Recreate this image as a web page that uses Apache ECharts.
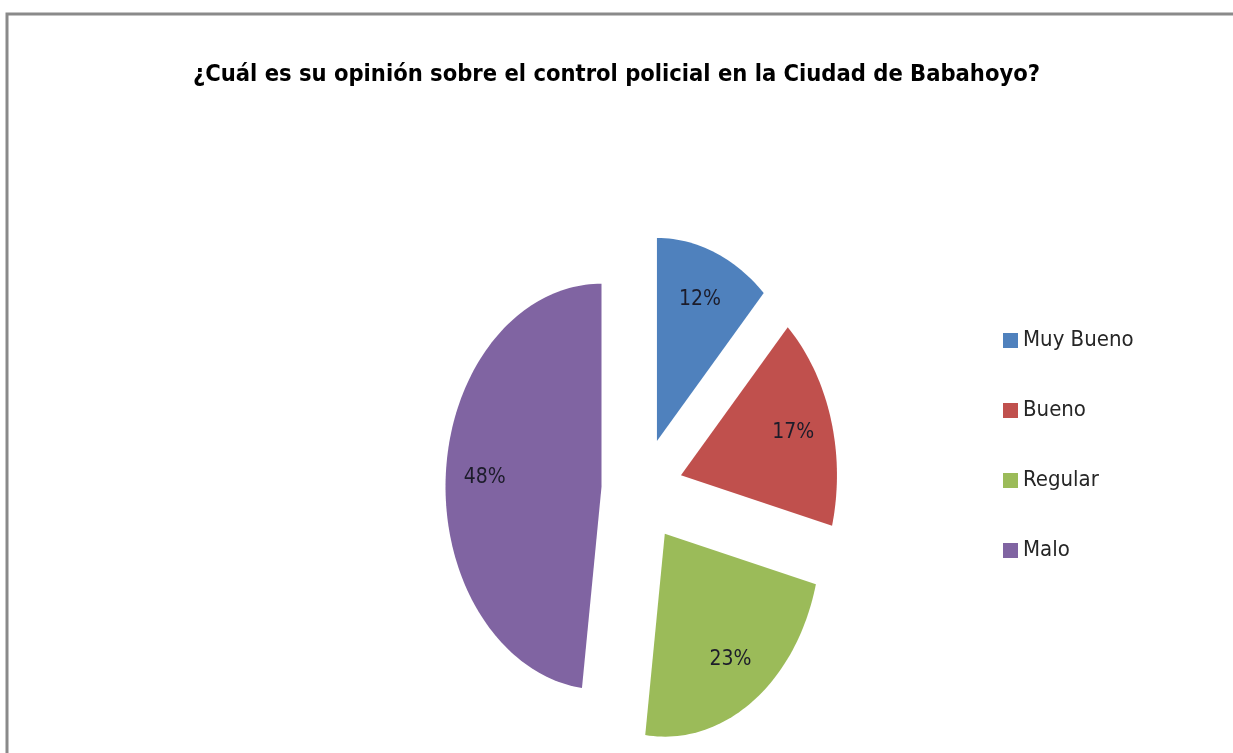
<!DOCTYPE html>
<html>
<head>
<meta charset="utf-8">
<script src="https://cdn.jsdelivr.net/npm/echarts@6/dist/echarts.min.js"></script>
<style>
html,body{margin:0;padding:0;background:#fff;}
#chart{width:1233px;height:753px;}
</style>
</head>
<body>
<div id="chart"></div>
<script>
const titleText = '¿Cuál es su opinión sobre el control policial en la Ciudad de Babahoyo?';
const categories = ['Muy Bueno', 'Bueno', 'Regular', 'Malo'];
const values = [12, 17, 23, 48];
const colors = ['#4F81BD', '#C0504D', '#9BBB59', '#8064A2'];

const FONT = "'Liberation Sans Narrow', 'DejaVu Sans Condensed', 'Roboto Condensed', 'Liberation Sans', sans-serif";
const PIE = { cx: 642, cy: 490, rx: 156, ry: 203, explode: 0.26, labelPos: 0.75 };

const total = values.reduce((a, b) => a + b, 0);
let acc = 0;
const sliceData = values.map(v => {
  const start = acc / total * 360;
  acc += v;
  const end = acc / total * 360;
  return [start, end, v];
});

function pt(ax, ay, deg, f) {
  const t = deg * Math.PI / 180;
  return [ax + PIE.rx * f * Math.sin(t), ay - PIE.ry * f * Math.cos(t)];
}

function makeRender(idx) {
  return function (params, api) {
    const s = api.value(0), e = api.value(1), v = api.value(2);
    const mid = (s + e) / 2;
    const apex = pt(PIE.cx, PIE.cy, mid, PIE.explode);
    const pts = [apex];
    const steps = Math.max(4, Math.ceil((e - s) / 1.5));
    for (let k = 0; k <= steps; k++) {
      pts.push(pt(apex[0], apex[1], s + (e - s) * k / steps, 1));
    }
    const lp = pt(apex[0], apex[1], mid, PIE.labelPos);
    return {
      type: 'group',
      children: [
        { type: 'polygon', shape: { points: pts }, style: { fill: colors[idx], stroke: null } },
        { type: 'text', x: lp[0], y: lp[1],
          style: { text: Math.round(v / total * 100) + '%', align: 'center', verticalAlign: 'middle',
                   fill: '#1c1c2a', font: "21px " + FONT } }
      ]
    };
  };
}

const series = categories.map((name, i) => ({
  type: 'custom',
  name: name,
  coordinateSystem: 'none',
  itemStyle: { color: colors[i] },
  data: [sliceData[i]],
  renderItem: makeRender(i),
  silent: true,
  animation: false
}));

const chart = echarts.init(document.getElementById('chart'), null, { renderer: 'canvas' });
chart.setOption({
  backgroundColor: '#ffffff',
  animation: false,
  title: {
    text: titleText,
    left: 'center',
    top: 58,
    textStyle: { fontFamily: FONT, fontSize: 23.5, fontWeight: 'bold', color: '#000' }
  },
  legend: {
    orient: 'vertical',
    left: 998,
    top: 324,
    icon: 'rect',
    itemWidth: 15,
    itemHeight: 15,
    itemGap: 47,
    data: categories,
    selectedMode: false,
    textStyle: { fontFamily: FONT, fontSize: 22, lineHeight: 23, color: '#262626' }
  },
  graphic: [
    { type: 'rect', shape: { x: 7, y: 14, width: 1400, height: 900 },
      style: { fill: null, stroke: '#8a8a8a', lineWidth: 3 }, silent: true }
  ],
  series: series
});
</script>
</body>
</html>
